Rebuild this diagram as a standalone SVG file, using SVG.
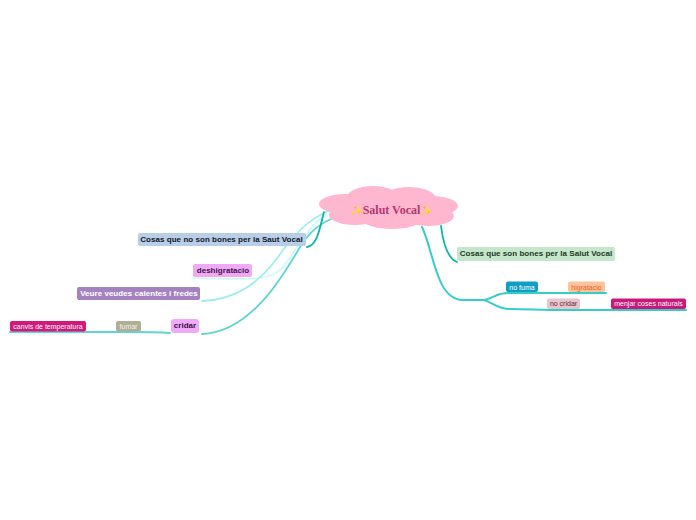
<svg xmlns="http://www.w3.org/2000/svg" width="696" height="520" viewBox="0 0 696 520">
<style>
text{font-family:"Liberation Sans",Arial,sans-serif;text-anchor:middle}
.b{font-size:8px;font-weight:bold;letter-spacing:.04px}
.s{font-size:7px}
path.c{fill:none;stroke-linecap:round}
</style>
<rect width="696" height="520" fill="#fff"/>
<g id="connectors">
<path class="c" d="M331 212C315 218 303 240 283 267C270 282 250 279 193 278" stroke="#c8fbf8" stroke-width="1.5"/>
<path class="c" d="M328 211C305 222 298 232 283 250C260 284 235 300 202 301" stroke="#a2eeec" stroke-width="1.8"/>
<path class="c" d="M333 218C315 226 307 236 300 247C282 278 250 332 202 334" stroke="#5dd6d2" stroke-width="1.8"/>
<path class="c" d="M324 212C320 226 318 245 307 247" stroke="#0db5ad" stroke-width="1.8"/>
<path class="c" d="M441 226C443 242 447 258 457 262" stroke="#0db5ad" stroke-width="1.8"/>
<path class="c" d="M422 227C434 252 436 300 463 300C475 300 478 300 484 300" stroke="#36cdc8" stroke-width="2"/>
<path class="c" d="M484 300C494 298 496 293 508 293L606 293" stroke="#36cdc8" stroke-width="2"/>
<path class="c" d="M484 300C494 303 497 309 510 309C530 309 535 310 550 310L686 310" stroke="#36cdc8" stroke-width="2"/>
<path class="c" d="M170 333C155 332 150 332 130 332L10 332" stroke="#5dd6d2" stroke-width="1.8"/>
</g>
<g id="root">
<g fill="#ffb6cf">
<ellipse cx="345" cy="204" rx="26" ry="10"/>
<ellipse cx="373" cy="199" rx="27" ry="13"/>
<ellipse cx="409" cy="199" rx="27" ry="12"/>
<ellipse cx="432" cy="206" rx="26" ry="10"/>
<ellipse cx="428" cy="216" rx="26" ry="10"/>
<ellipse cx="392" cy="219" rx="30" ry="10"/>
<ellipse cx="355" cy="215" rx="26" ry="10"/>
<rect x="345" y="198" width="85" height="24"/>
</g>
<text x="391.500" y="214" font-size="12" font-weight="bold" style="font-family:'Liberation Serif','DejaVu Serif',serif" fill="#b3386e"><tspan fill="#f2d31b" font-size="9.500">✨</tspan>Salut Vocal<tspan fill="#f2d31b" font-size="9.500">✨</tspan></text>
</g>
<g id="n1"><rect x="138" y="233" width="168" height="13" rx="2" fill="#b8cde6"/><text class="b" x="221.500" y="242" fill="#10182a">Cosas que no son bones per la Saut Vocal</text></g>
<g id="n2"><rect x="193" y="264" width="59" height="13" rx="2" fill="#f0aaf5"/><text class="b" x="223" y="273" fill="#41104a">deshigratacio</text></g>
<g id="n3"><rect x="77" y="287" width="123" height="13" rx="2" fill="#a482c0"/><text class="b" x="139" y="296" fill="#fff">Veure veudes calentes i fredes</text></g>
<g id="n4"><rect x="171" y="319" width="28" height="14" rx="3" fill="#f0aaf8"/><text class="b" x="185" y="328" fill="#41104a">cridar</text></g>
<g id="n5"><rect x="116" y="321" width="25" height="10.500" rx="2" fill="#b0ae96"/><text class="s" x="128.500" y="329" fill="#f2f2e8">fumar</text></g>
<g id="n6"><rect x="10" y="321" width="76" height="10.500" rx="2" fill="#d3187c"/><text class="s" x="48" y="329" fill="#fff">canvis de temperatura</text></g>
<g id="n7"><rect x="457" y="247" width="158" height="14" rx="2" fill="#c6e6cb"/><text class="b" x="536" y="256" fill="#1c3a24">Cosas que son bones per la Salut Vocal</text></g>
<g id="n8"><rect x="506" y="281.500" width="32" height="10.500" rx="2" fill="#129ec4"/><text class="s" x="522" y="289.500" fill="#fff">no fuma</text></g>
<g id="n9"><rect x="568" y="281.500" width="37" height="10.500" rx="2" fill="#fdc39a"/><text class="s" x="586.500" y="289.500" fill="#e8602a">higratacio</text></g>
<g id="n10"><rect x="547" y="298.500" width="33" height="10.500" rx="2" fill="#e8c4cc"/><text class="s" x="563.500" y="306" fill="#5e2a38">no cridar</text></g>
<g id="n11"><rect x="611" y="298.500" width="75" height="10.500" rx="2" fill="#c9177a"/><text class="s" x="648.500" y="306" fill="#fff">menjar coses naturals</text></g>
</svg>
